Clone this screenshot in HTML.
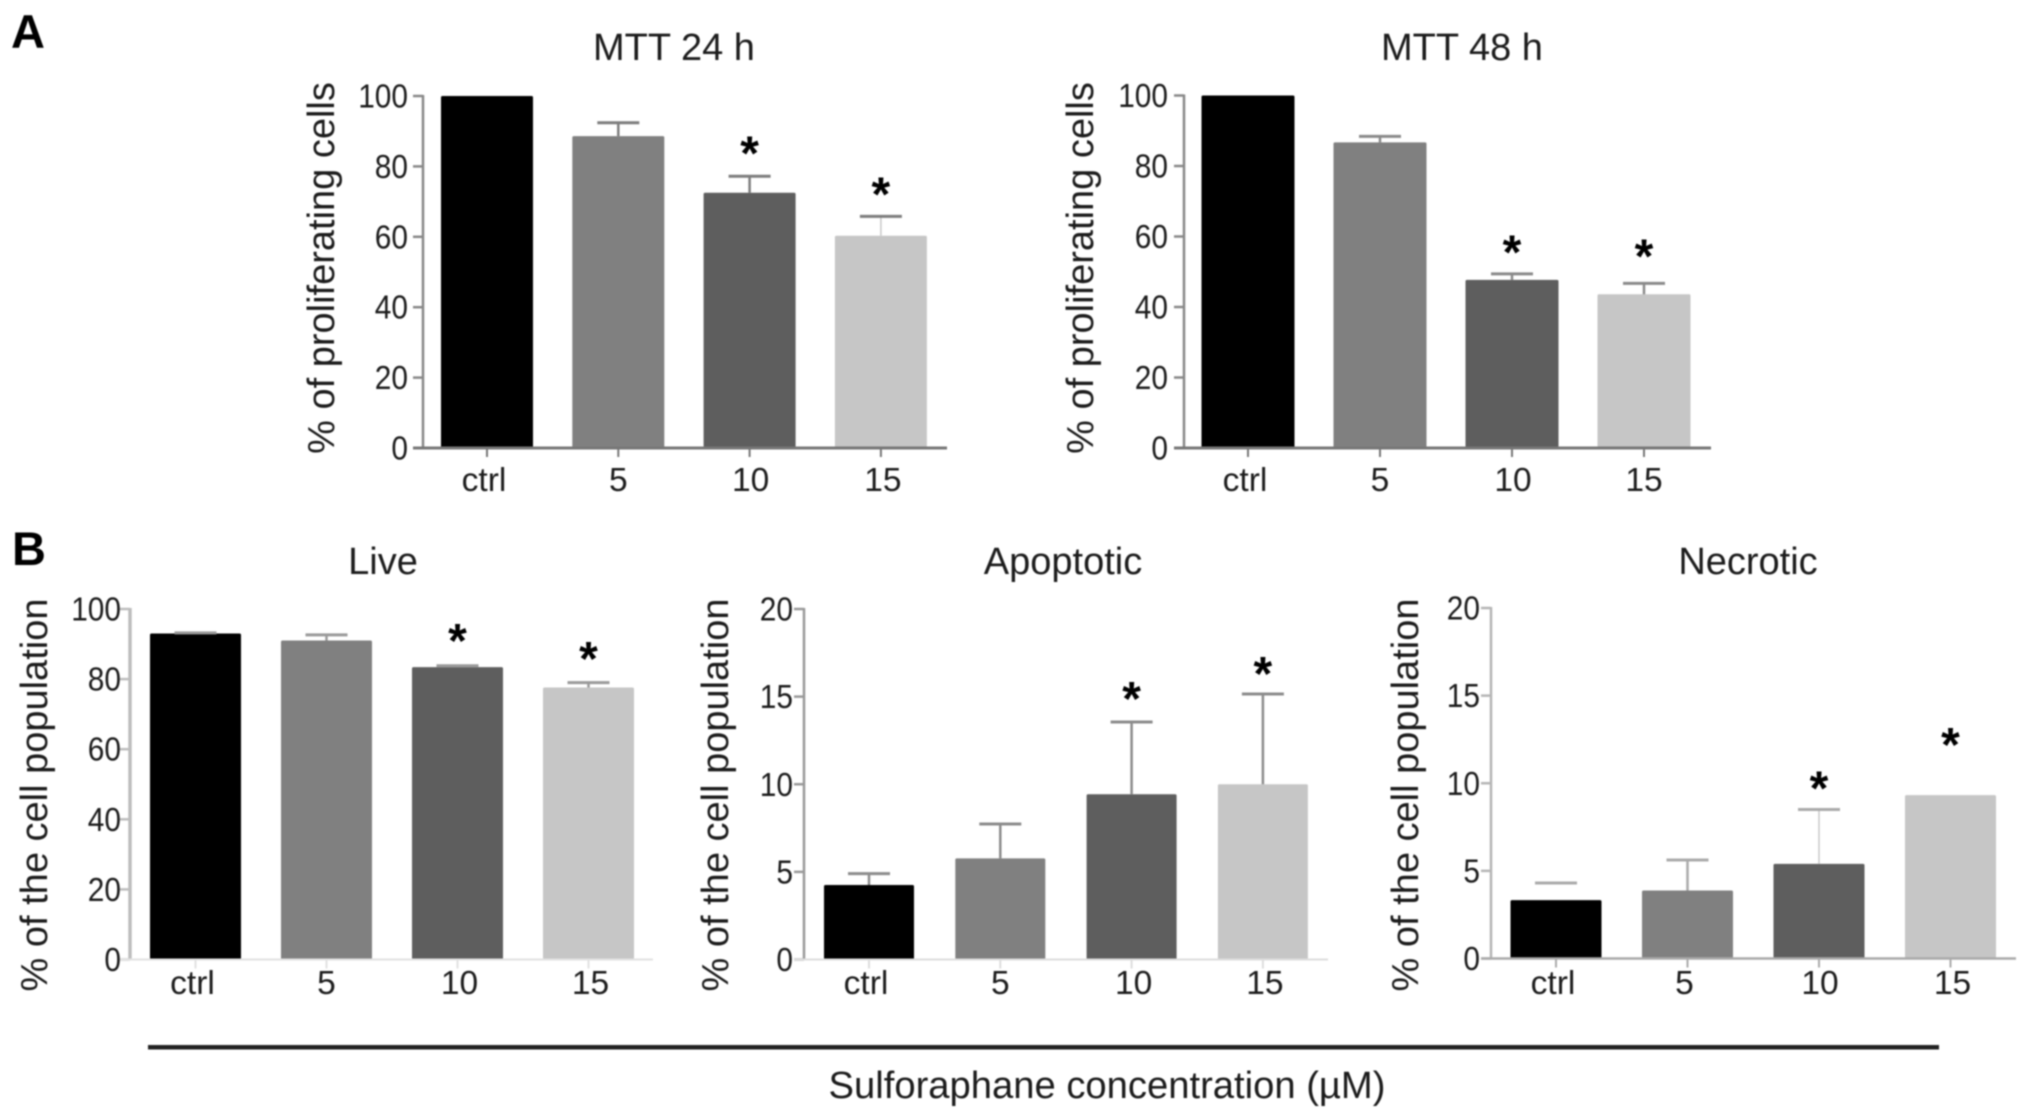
<!DOCTYPE html>
<html lang="en">
<head>
<meta charset="utf-8">
<title>Sulforaphane proliferation and cell population charts</title>
<style>
  html, body { margin: 0; padding: 0; background: #fff; }
  body { width: 2031px; height: 1119px; overflow: hidden; }
  svg { display: block; filter: blur(0.7px); }
  text { font-family: "Liberation Sans", sans-serif; fill: #1c1c1c; }
</style>
</head>
<body>
<svg id="figure" xmlns="http://www.w3.org/2000/svg" width="2031" height="1119" viewBox="0 0 2031 1119">
  <rect x="0" y="0" width="2031" height="1119" fill="#fff"></rect>
  <text x="11" y="48" font-size="47" font-weight="700" style="fill:#000">A</text>
  <text x="12" y="565" font-size="47" font-weight="700" style="fill:#000">B</text>
  <rect x="148" y="1045" width="1791" height="4.5" fill="#222"></rect>
  <text x="1107" y="1098" font-size="38.2" text-anchor="middle">Sulforaphane concentration (µM)</text>
</svg>
<script>
// Shared categories and tick labels
const categories = ['ctrl', '5', '10', '15'];
const ticksPercent = [0, 20, 40, 60, 80, 100];
const ticksLow = [0, 5, 10, 15, 20];

// MTT 24 h
const mtt24Values = [100, 88.6, 72.5, 60.3];
const mtt24Errors = [100, 92.4, 77.2, 65.8];
const mtt24Stars = [null, null, 85.7, 74];

// MTT 48 h
const mtt48Values = [100, 86.7, 47.7, 43.6];
const mtt48Errors = [100, 88.4, 49.4, 46.7];
const mtt48Stars = [null, null, 57.4, 56.3];

// Live
const liveValues = [93, 91, 83.4, 77.6];
const liveErrors = [93.2, 92.6, 83.8, 79];
const liveStars = [null, null, 92.9, 87.7];

// Apoptotic
const apoptoticValues = [4.25, 5.77, 9.43, 10];
const apoptoticErrors = [4.9, 7.73, 13.55, 15.15];
const apoptoticStars = [null, null, 15.25, 16.7];

// Necrotic
const necroticValues = [3.33, 3.88, 5.4, 9.32];
const necroticErrors = [4.31, 5.62, 8.5, null];
const necroticStars = [null, null, 10.1, 12.57];

const svg = document.getElementById('figure');
const NS = 'http://www.w3.org/2000/svg';
const barFills = ['#000000', '#808080', '#5e5e5e', '#c6c6c6'];

function make(tag, attrs, text) {
  const el = document.createElementNS(NS, tag);
  for (const key in attrs) el.setAttribute(key, attrs[key]);
  if (text !== undefined) el.textContent = text;
  svg.appendChild(el);
  return el;
}

function drawPanel(p) {
  const yScale = v => p.y0 - (v / p.max) * (p.y0 - p.yTop);
  const xScale = i => p.x0 + i * p.step;

  const title = make('text', { x: p.titleX, y: p.titleY, 'font-size': 38, 'text-anchor': 'middle' }, p.title);
  
  

  const yTitle = make('text', {
    x: 0, y: 0, 'font-size': 38, 'text-anchor': 'middle',
    transform: 'translate(' + p.yTitleX + ' ' + p.yTitleY + ') rotate(-90)'
  }, p.yTitle);
  
  

  p.values.forEach((value, i) => {
    const bar = make('rect', {
      x: xScale(i) - p.barWidth / 2,
      y: yScale(value),
      width: p.barWidth,
      height: p.y0 - yScale(value),
      rx: 1.5,
      fill: barFills[i]
    });
    
    

    const err = p.errors[i];
    if (err !== null && err > value) {
      if (!p.noStem.includes(i)) {
        const faint = p.faintStems.includes(i);
        const stem = make('line', {
          x1: xScale(i), x2: xScale(i), y1: yScale(value), y2: yScale(err),
          stroke: faint ? '#c8c8c8' : p.errColor, 'stroke-width': faint ? 1.5 : 2.5
        });
        
        
      }
      const cap = make('line', {
        x1: xScale(i) - 21, x2: xScale(i) + 21, y1: yScale(err), y2: yScale(err),
        stroke: p.errColor, 'stroke-width': 3
      });
      
      
    }

    if (p.stars[i] !== null) {
      const star = make('text', {
        x: xScale(i), y: yScale(p.stars[i]) + 23,
        'font-size': 48, 'font-weight': 700, 'text-anchor': 'middle', style: 'fill:#000'
      }, '*');
      
      
    }

    const xTick = make('line', {
      x1: xScale(i), x2: xScale(i), y1: p.y0, y2: p.y0 + 9,
      stroke: p.xAxisColor, 'stroke-width': 2
    });
    
    

    const xLabel = make('text', {
      x: xScale(i) + p.xLabelShift[i], y: p.xLabelY, 'font-size': 33.5, 'text-anchor': 'middle'
    }, categories[i]);
    
    
  });

  p.ticks.forEach(tick => {
    const yTick = make('line', {
      x1: p.axisX - 10, x2: p.axisX, y1: yScale(tick), y2: yScale(tick),
      stroke: p.yAxisColor, 'stroke-width': 2.5
    });
    
    

    const yLabel = make('text', {
      x: p.yLabelX, y: yScale(tick) + 11.5, 'font-size': 33, 'text-anchor': 'end',
      textLength: String(tick).length * 16.6, lengthAdjust: 'spacingAndGlyphs'
    }, String(tick));
    
    
  });

  const yAxis = make('line', {
    x1: p.axisX, x2: p.axisX, y1: p.yTop - 1, y2: p.y0 + 1,
    stroke: p.yAxisColor, 'stroke-width': p.yAxisWidth
  });
  
  

  const xAxis = make('line', {
    x1: p.axisX - 10, x2: p.axisEnd, y1: p.y0, y2: p.y0,
    stroke: p.xAxisColor, 'stroke-width': p.xAxisWidth
  });
  
  
}

drawPanel({
  id: 'mtt-24h', title: 'MTT 24 h', titleX: 674, titleY: 60, yTitle: '% of proliferating cells',
  yTitleX: 334, yTitleY: 268, values: mtt24Values, errors: mtt24Errors, stars: mtt24Stars,
  ticks: ticksPercent, max: 100, y0: 448, yTop: 96, axisX: 423, axisEnd: 947, x0: 487, step: 131.3,
  barWidth: 92, yLabelX: 408, xLabelY: 491, xLabelShift: [-3, 0, 1, 2], noStem: [], faintStems: [3],
  errColor: '#7d7d7d', yAxisColor: '#888', xAxisColor: '#777', yAxisWidth: 2.5, xAxisWidth: 3
});
drawPanel({
  id: 'mtt-48h', title: 'MTT 48 h', titleX: 1462, titleY: 60, yTitle: '% of proliferating cells',
  yTitleX: 1093, yTitleY: 268, values: mtt48Values, errors: mtt48Errors, stars: mtt48Stars,
  ticks: ticksPercent, max: 100, y0: 448, yTop: 95.5, axisX: 1184, axisEnd: 1711, x0: 1248, step: 132,
  barWidth: 93, yLabelX: 1168, xLabelY: 491, xLabelShift: [-3, 0, 1, 0], noStem: [], faintStems: [],
  errColor: '#8a8a8a', yAxisColor: '#888', xAxisColor: '#777', yAxisWidth: 2.5, xAxisWidth: 3
});
drawPanel({
  id: 'live', title: 'Live', titleX: 383, titleY: 574, yTitle: '% of the cell population',
  yTitleX: 47, yTitleY: 795, values: liveValues, errors: liveErrors, stars: liveStars,
  ticks: ticksPercent, max: 100, y0: 959.5, yTop: 609, axisX: 130, axisEnd: 653, x0: 195.5, step: 131,
  barWidth: 91, yLabelX: 121, xLabelY: 994, xLabelShift: [-3, 0, 2, 2], noStem: [], faintStems: [],
  errColor: '#9a9a9a', yAxisColor: '#bdbdbd', xAxisColor: '#e2e2e2', yAxisWidth: 3.5, xAxisWidth: 2
});
drawPanel({
  id: 'apoptotic', title: 'Apoptotic', titleX: 1063, titleY: 574, yTitle: '% of the cell population',
  yTitleX: 728, yTitleY: 795, values: apoptoticValues, errors: apoptoticErrors, stars: apoptoticStars,
  ticks: ticksLow, max: 20, y0: 959.5, yTop: 609, axisX: 804, axisEnd: 1328, x0: 869, step: 131.3,
  barWidth: 90, yLabelX: 793, xLabelY: 994, xLabelShift: [-3, 0, 2, 2], noStem: [], faintStems: [],
  errColor: '#8c8c8c', yAxisColor: '#999', xAxisColor: '#ddd', yAxisWidth: 2.5, xAxisWidth: 2
});
drawPanel({
  id: 'necrotic', title: 'Necrotic', titleX: 1748, titleY: 574, yTitle: '% of the cell population',
  yTitleX: 1418, yTitleY: 795, values: necroticValues, errors: necroticErrors, stars: necroticStars,
  ticks: ticksLow, max: 20, y0: 958.5, yTop: 608, axisX: 1491, axisEnd: 2016, x0: 1556, step: 131.5,
  barWidth: 91, yLabelX: 1480, xLabelY: 994, xLabelShift: [-3, -3, 1, 2], noStem: [0], faintStems: [2],
  errColor: '#aaaaaa', yAxisColor: '#b5b5b5', xAxisColor: '#aaa', yAxisWidth: 2.5, xAxisWidth: 2.5
});
</script>
</body>
</html>
